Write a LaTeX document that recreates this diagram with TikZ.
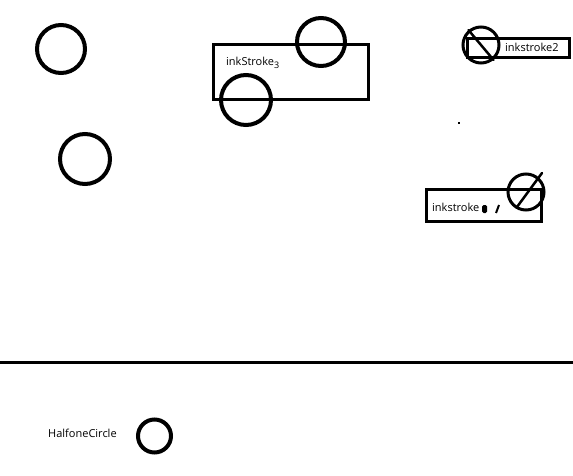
\documentclass[tikz,border=0pt]{standalone}
\usepackage{fontspec}
\setmainfont{Open Sans}
\usetikzlibrary{positioning}
\tikzset{
  ring/.style={circle,draw=black,line width=4pt,inner sep=0pt,minimum size=48pt},
  smallring/.style={circle,draw=black,line width=3pt,inner sep=0pt,minimum size=36pt},
  strokebox/.style={draw=black,line width=3pt},
  inklabel/.style={inner sep=0pt,anchor=base west,font=\fontsize{11}{13}\selectfont},
  slash/.style={line width=2.5pt,line cap=round}
}

\begin{document}
\begin{tikzpicture}[x=1pt,y=-1pt]
  \useasboundingbox (0,0) rectangle (573,476);

  % loose circles on the left
  \node[ring] (c1) at (61,49) {};
  \node[ring,minimum size=50pt] (c2) at (85,159) {};

  % inkStroke3 box with its two circles
  \draw[strokebox] (213,45) rectangle (368,100);
  \node[inklabel] (lbl3) at (226,66) {inkStroke\raisebox{-2.5pt}{\fontsize{9}{10}\selectfont 3}};
  \node[ring] (c3) at (321,42) {};
  \node[ring,minimum size=50pt] (c4) at (246,100) {};

  % inkstroke2, top right
  \draw[strokebox] (467,39) rectangle (569,58);
  \node[inklabel] (lbl2) at (505,52) {inkstroke2};
  \node[smallring] (cs2) at (481,45) {};
  \draw[slash] (cs2.130) -- (cs2.-50);

  % stray dot
  \fill (458,122) rectangle (460,124);

  % inkstroke1, right
  \draw[strokebox] (426,189) rectangle (541,221);
  \node[inklabel] (lbl1) at (432,211) {inkstroke};
  \fill[rounded corners=1.5pt] (482,205) rectangle (487,213);
  \draw[line width=2pt] (499,205) -- (496,213);
  \node[smallring] (cs1) at (526,192) {};
  \draw[slash] (542,173) -- (517,207);

  % divider
  \draw[line width=3pt] (0,362) -- (573,362);

  % legend
  \node[inklabel] (halfone) at (48,437) {HalfoneCircle};
  \node[ring,minimum size=33pt] (hc) at (154.5,436) {};
\end{tikzpicture}
\end{document}
